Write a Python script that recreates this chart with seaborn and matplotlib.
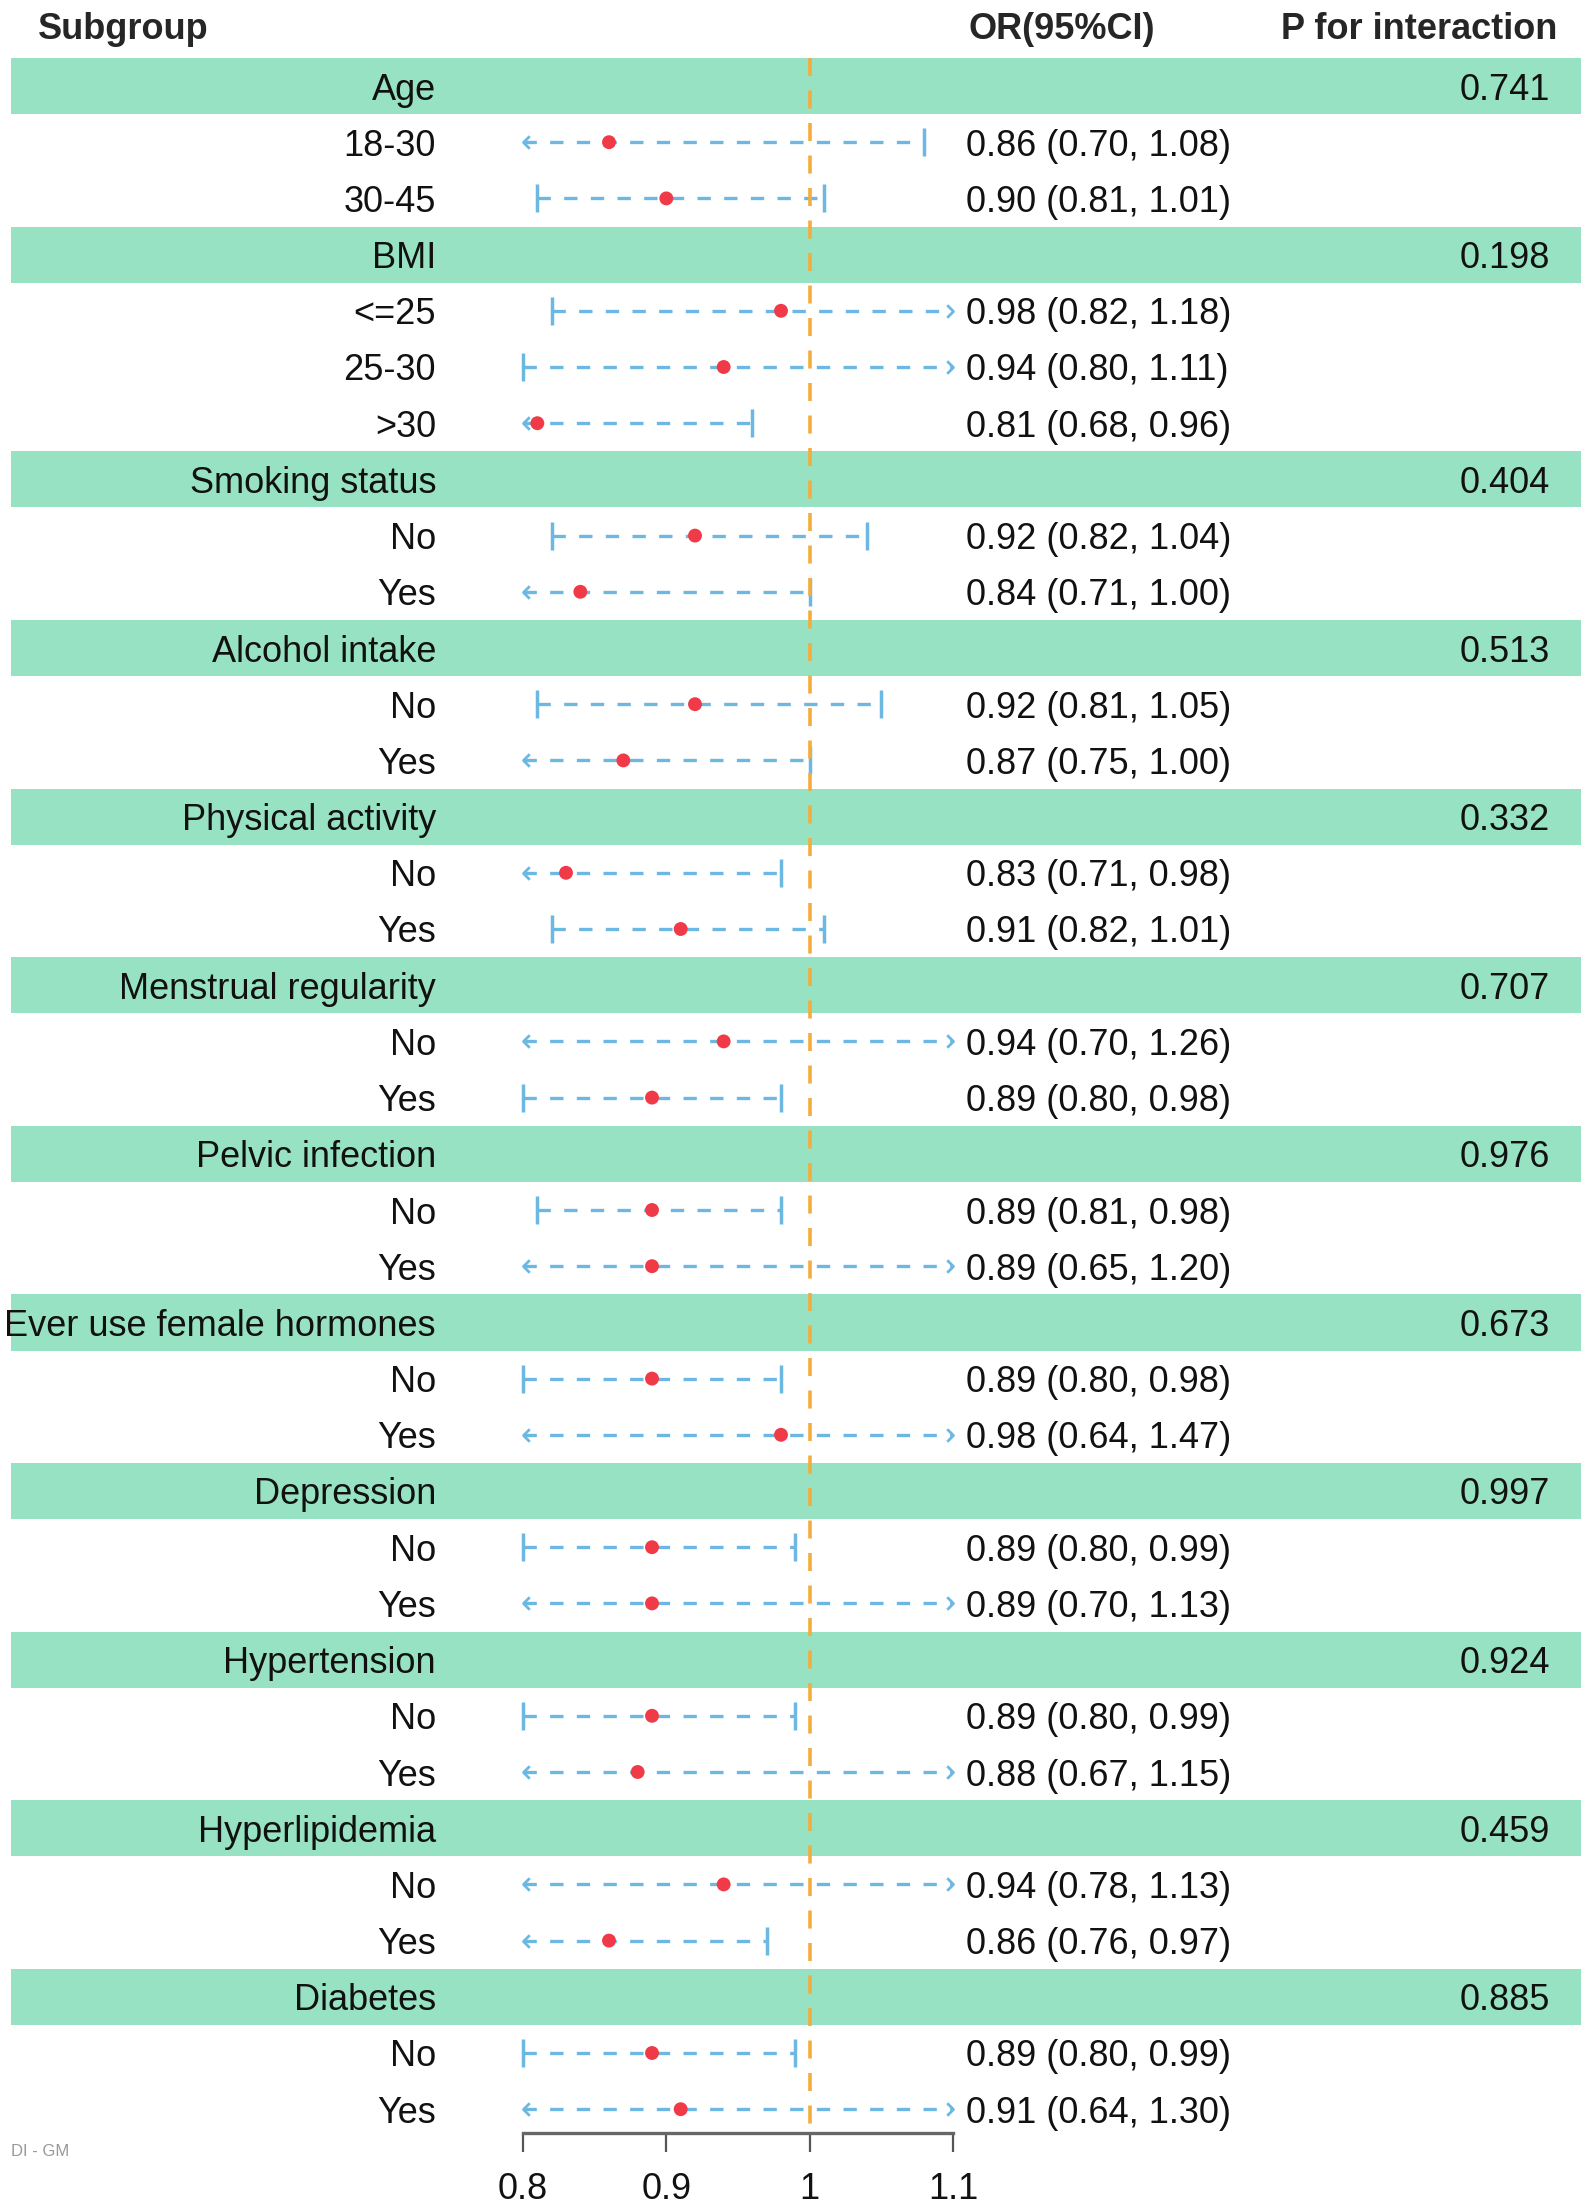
import numpy as np
import pandas as pd
import matplotlib
matplotlib.use('Agg')
import matplotlib.pyplot as plt
import seaborn as sns
from matplotlib.path import Path

# subgroup headers and p for interaction
groups = ['Age', 'BMI', 'Smoking status', 'Alcohol intake', 'Physical activity',
          'Menstrual regularity', 'Pelvic infection', 'Ever use female hormones',
          'Depression', 'Hypertension', 'Hyperlipidemia', 'Diabetes']
p_inter = ['0.741', '0.198', '0.404', '0.513', '0.332', '0.707',
           '0.976', '0.673', '0.997', '0.924', '0.459', '0.885']
subgroups = [['18-30', '30-45'], ['<=25', '25-30', '>30'], ['No', 'Yes'], ['No', 'Yes'],
             ['No', 'Yes'], ['No', 'Yes'], ['No', 'Yes'], ['No', 'Yes'],
             ['No', 'Yes'], ['No', 'Yes'], ['No', 'Yes'], ['No', 'Yes']]

# odds ratios and 95% CI per subgroup level (flat, in drawing order)
or_est = [0.86, 0.90, 0.98, 0.94, 0.81, 0.92, 0.84, 0.92, 0.87, 0.83, 0.91, 0.94, 0.89,
          0.89, 0.89, 0.89, 0.98, 0.89, 0.89, 0.89, 0.88, 0.94, 0.86, 0.89, 0.91]
ci_low = [0.70, 0.81, 0.82, 0.80, 0.68, 0.82, 0.71, 0.81, 0.75, 0.71, 0.82, 0.70, 0.80,
          0.81, 0.65, 0.80, 0.64, 0.80, 0.70, 0.80, 0.67, 0.78, 0.76, 0.80, 0.64]
ci_high = [1.08, 1.01, 1.18, 1.11, 0.96, 1.04, 1.00, 1.05, 1.00, 0.98, 1.01, 1.26, 0.98,
           0.98, 1.20, 0.98, 1.47, 0.99, 1.13, 0.99, 1.15, 1.13, 0.97, 0.99, 1.30]

x_ticks = [0.8, 0.9, 1.0, 1.1]
x_ticklabels = ['0.8', '0.9', '1', '1.1']
x_min, x_max = 0.8, 1.1

#colors
green = '#98e2c4'
blue = '#6cb8e2'
red = '#f03a48'
orange = '#f5ac3c'

sns.set_theme(style='white')
plt.rcParams['font.family'] = ['Liberation Sans', 'DejaVu Sans']
fs = 26

# build one table with a row number for everything
rows = []
r = 0
k = 0
for g, p, subs in zip(groups, p_inter, subgroups):
    rows.append(dict(row=r, kind='head', label=g, p=p))
    r += 1
    for s in subs:
        rows.append(dict(row=r, kind='sub', label=s, est=or_est[k], lo=ci_low[k], hi=ci_high[k]))
        r += 1
        k += 1
df = pd.DataFrame(rows)
subs_df = df[df.kind == 'sub'].copy()

W, H = 1595, 2210
row0_px, pitch = 86, 56.2
axis_row = (2133 - row0_px) / pitch

fig = plt.figure(figsize=(W / 100, H / 100), dpi=100)
bg = fig.add_axes([0, 0, 1, 1])
bg.set_xlim(0, W)
bg.set_ylim((H - row0_px) / pitch, -row0_px / pitch)
bg.axis('off')

va = 'center_baseline'
# green bands for header rows + text columns
for _, h in df[df.kind == 'head'].iterrows():
    bg.axhspan(h.row - 0.5, h.row + 0.5, xmin=11 / W, xmax=1581 / W, color=green, lw=0, zorder=0)
    bg.text(436, h.row, h.label, ha='right', va=va, fontsize=fs, color='#111111')
    bg.text(1550, h.row, h.p, ha='right', va=va, fontsize=fs, color='#111111')
for _, s in subs_df.iterrows():
    bg.text(436, s.row, s.label, ha='right', va=va, fontsize=fs, color='#111111')
    bg.text(966, s.row, f'{s.est:.2f} ({s.lo:.2f}, {s.hi:.2f})', ha='left', va=va,
            fontsize=fs, color='#111111')

bg.text(38, -1.08, 'Subgroup', ha='left', va=va, fontsize=fs, fontweight='bold')
bg.text(969, -1.08, 'OR(95%CI)', ha='left', va=va, fontsize=fs, fontweight='bold')
bg.text(1557, -1.08, 'P for interaction', ha='right', va=va, fontsize=fs, fontweight='bold')
bg.text(11, (2152 - row0_px) / pitch, 'DI - GM', ha='left', va='center', fontsize=12, color='#999999')

# forest panel, same vertical scale as the background
ax = fig.add_axes([523 / W, 0, 430 / W, 1], sharey=bg)
ax.patch.set_alpha(0)
ax.set_xlim(x_min, x_max)

arrow_l = Path([(1, 1), (0, 0), (1, -1)], [Path.MOVETO, Path.LINETO, Path.LINETO])
arrow_r = Path([(-1, 1), (0, 0), (-1, -1)], [Path.MOVETO, Path.LINETO, Path.LINETO])

for _, s in subs_df.iterrows():
    lo_c = max(s.lo, x_min)
    hi_c = min(s.hi, x_max)
    ax.hlines(s.row, lo_c, hi_c, colors=blue, linestyles=(0, (4, 4)), lw=2.4, zorder=2)
    if s.lo < x_min:
        ax.plot([lo_c], [s.row], marker=arrow_l, ms=9, mfc='none', mec=blue, mew=2, clip_on=False)
    else:
        ax.plot([lo_c], [s.row], marker='|', ms=20, mec=blue, mew=2.5, clip_on=False)
    if s.hi > x_max:
        ax.plot([hi_c], [s.row], marker=arrow_r, ms=9, mfc='none', mec=blue, mew=2, clip_on=False)
    else:
        ax.plot([hi_c], [s.row], marker='|', ms=20, mec=blue, mew=2.5, clip_on=False)

ax.vlines(1, -0.5, axis_row, colors=orange, linestyles=(0, (5, 4)), lw=2.6, zorder=3)

sns.scatterplot(data=subs_df, x='est', y='row', ax=ax, color=red, s=100, marker='o',
                edgecolor='none', zorder=5, legend=False, clip_on=False)

ax.set_xlim(x_min, x_max)
ax.set_ylim((H - row0_px) / pitch, -row0_px / pitch)
ax.set_xlabel('')
ax.set_ylabel('')
for sp in ['top', 'left', 'right']:
    ax.spines[sp].set_visible(False)
ax.spines['bottom'].set_position(('data', axis_row))
ax.spines['bottom'].set_color('#666666')
ax.spines['bottom'].set_linewidth(2.4)
ax.set_xticks(x_ticks)
ax.set_xticklabels(x_ticklabels)
ax.tick_params(axis='x', bottom=True, direction='out', length=14, width=1.6, color='#555555',
               labelsize=fs, pad=14, labelcolor='#111111')
ax.tick_params(axis='y', left=False, labelleft=False)

fig.savefig('out.png', dpi=100)
